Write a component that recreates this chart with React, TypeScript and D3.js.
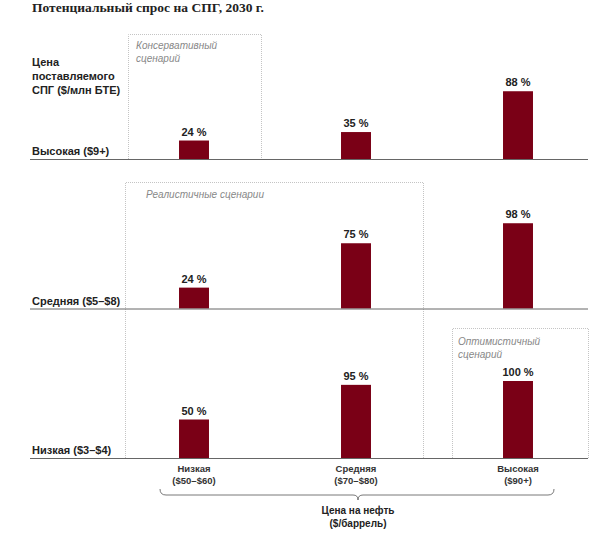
import React from "react";
import * as d3 from "d3";

const title = "Потенциальный спрос на СПГ, 2030 г.";
const yAxisTitle = ["Цена", "поставляемого", "СПГ ($/млн БТЕ)"];
const gasPrices = ["Высокая ($9+)", "Средняя ($5–$8)", "Низкая ($3–$4)"];
const oilPrices = ["Низкая", "Средняя", "Высокая"];
const oilRanges = ["($50–$60)", "($70–$80)", "($90+)"];
const oilTitle = ["Цена на нефть", "($/баррель)"];
// demand % per gas-price row (rows) and oil-price column
const highGas = [24, 35, 88];
const midGas = [24, 75, 98];
const lowGas = [50, 95, 100];
const rowsData = [highGas, midGas, lowGas];
const scenarioLabels = [["Консервативный", "сценарий"], ["Реалистичные сценарии"], ["Оптимистичный", "сценарий"]];

const W = 614;
const H = 542;
const BAR = "#7a0016";

export default function App() {
  const x = d3.scaleBand<string>().domain(oilPrices).range([113, 599]).paddingInner(0.815).paddingOuter(0.4075);
  const rowBase = d3.scalePoint<string>().domain(gasPrices).range([159, 458]);
  const rowPx = [77, 87, 77];
  const yScales = rowPx.map((p) => d3.scaleLinear().domain([0, 100]).range([0, p]));
  const cx = (c: string) => (x(c) as number) + x.bandwidth() / 2;
  const font = "Liberation Sans, Arial, sans-serif";

  const boxes = [
    { x0: 128.5, x1: 261.5, y0: 34.5, y1: 159, label: scenarioLabels[0], lx: 136, ly: 49 },
    { x0: 125.5, x1: 423.5, y0: 182.5, y1: 458, label: scenarioLabels[1], lx: 146, ly: 198 },
    { x0: 452.5, x1: 588.5, y0: 328.5, y1: 458, label: scenarioLabels[2], lx: 458, ly: 345 },
  ];

  const bl = cx(oilPrices[0]) - 34;
  const br = cx(oilPrices[2]) + 36;
  const bm = cx(oilPrices[1]) + 2;
  const by = 489;
  const brace = d3.path();
  brace.moveTo(bl, by);
  brace.quadraticCurveTo(bl, by + 6, bl + 6, by + 6);
  brace.lineTo(bm - 5, by + 6);
  brace.quadraticCurveTo(bm, by + 6, bm, by + 11);
  brace.quadraticCurveTo(bm, by + 6, bm + 5, by + 6);
  brace.lineTo(br - 6, by + 6);
  brace.quadraticCurveTo(br, by + 6, br, by);

  return (
    <svg width={W} height={H} style={{ position: "absolute", left: 0, top: 0 }}>
      <rect width={W} height={H} fill="#fff" />
      <text x={32} y={12} fontFamily="Liberation Serif, Times New Roman, serif" fontWeight="bold" fontSize={13.5} fill="#222">
        {title}
      </text>
      {boxes.map((b, i) => (
        <g key={i}>
          <path
            d={`M${b.x0},${b.y1}V${b.y0}H${b.x1}V${b.y1}`}
            fill="none"
            stroke="#c4c4c4"
            strokeWidth={1}
            strokeDasharray="1,1"
          />
          {b.label.map((t, j) => (
            <text key={j} x={b.lx} y={b.ly + j * 13} fontFamily={font} fontStyle="italic" fontSize={10} fill="#888">
              {t}
            </text>
          ))}
        </g>
      ))}
      {yAxisTitle.map((t, i) => (
        <text key={i} x={32} y={66 + i * 14} fontFamily={font} fontWeight="bold" fontSize={11} fill="#222">
          {t}
        </text>
      ))}
      {gasPrices.map((g, r) => {
        const base = rowBase(g) as number;
        return (
          <g key={g}>
            <text x={32} y={base - 4} fontFamily={font} fontWeight="bold" fontSize={11} fill="#222">
              {g}
            </text>
            {rowsData[r].map((v, c) => {
              const h = yScales[r](v);
              const cat = oilPrices[c];
              return (
                <g key={c}>
                  <rect x={x(cat)} y={base - h} width={x.bandwidth()} height={h} fill={BAR} />
                  <text
                    x={cx(cat)}
                    y={base - h - 5}
                    textAnchor="middle"
                    fontFamily={font}
                    fontWeight="bold"
                    fontSize={11}
                    fill="#222"
                  >
                    {v} %
                  </text>
                </g>
              );
            })}
            <line x1={30} x2={588} y1={base + 0.5} y2={base + 0.5} stroke="#666" strokeWidth={1} />
          </g>
        );
      })}
      {oilPrices.map((c, i) => (
        <g key={c}>
          <text x={cx(c)} y={472} textAnchor="middle" fontFamily={font} fontWeight="bold" fontSize={9.5} fill="#333">
            {c}
          </text>
          <text x={cx(c)} y={484} textAnchor="middle" fontFamily={font} fontWeight="bold" fontSize={9.5} fill="#333">
            {oilRanges[i]}
          </text>
        </g>
      ))}
      <path d={brace.toString()} fill="none" stroke="#555" strokeWidth={0.8} />
      {oilTitle.map((t, i) => (
        <text key={i} x={bm} y={514 + i * 13} textAnchor="middle" fontFamily={font} fontWeight="bold" fontSize={10} fill="#222">
          {t}
        </text>
      ))}
    </svg>
  );
}
